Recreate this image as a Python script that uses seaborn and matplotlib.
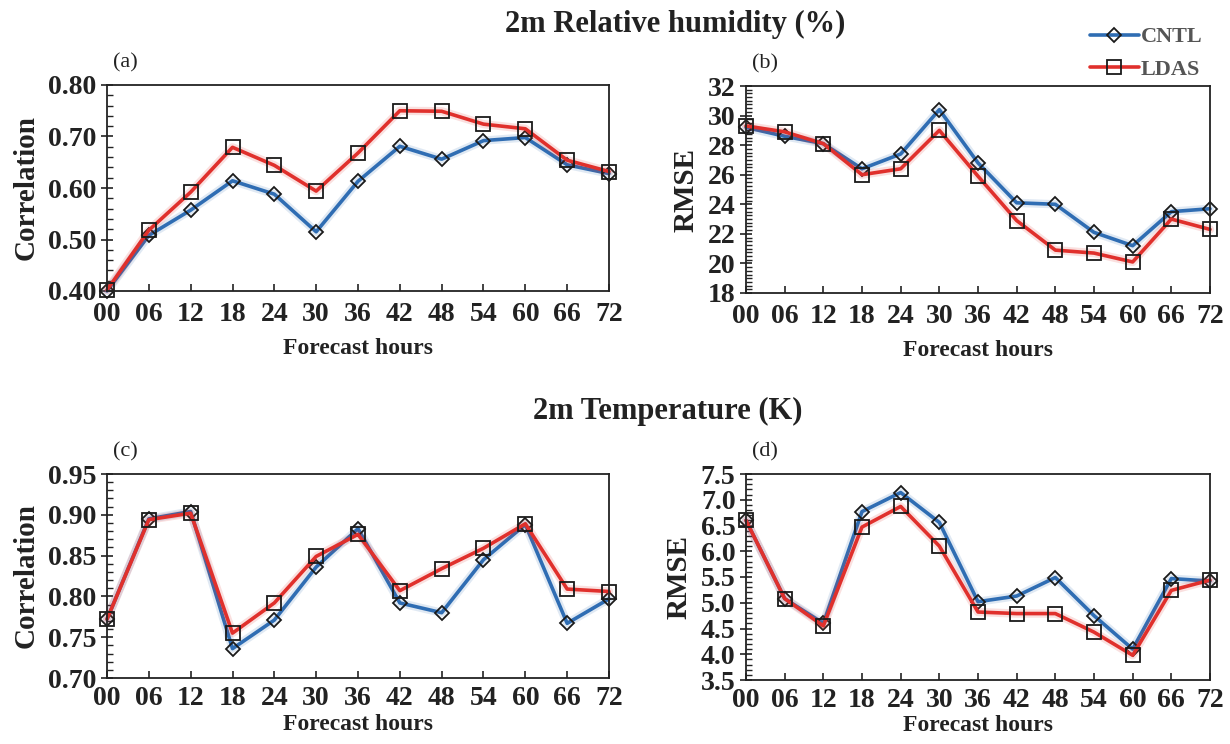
import numpy as np
import pandas as pd
import matplotlib
matplotlib.use("Agg")
import matplotlib.pyplot as plt
from matplotlib.ticker import MultipleLocator
import seaborn as sns

sns.set_theme(style="white")
plt.rcParams["font.family"] = ["Liberation Serif", "DejaVu Serif"]

hours = [0, 6, 12, 18, 24, 30, 36, 42, 48, 54, 60, 66, 72]
hour_labels = ["00", "06", "12", "18", "24", "30", "36", "42", "48", "54", "60", "66", "72"]

# 2m relative humidity
rh_corr_cntl = [0.400, 0.508, 0.557, 0.614, 0.588, 0.515, 0.613, 0.681, 0.656, 0.692, 0.698, 0.645, 0.628]
rh_corr_ldas = [0.402, 0.518, 0.592, 0.679, 0.644, 0.594, 0.668, 0.750, 0.749, 0.724, 0.715, 0.654, 0.632]
rh_rmse_cntl = [29.2, 28.6, 28.1, 26.4, 27.4, 30.4, 26.8, 24.1, 24.0, 22.1, 21.2, 23.5, 23.7]
rh_rmse_ldas = [29.3, 28.9, 28.1, 26.0, 26.4, 29.0, 25.9, 22.9, 20.9, 20.7, 20.1, 23.0, 22.3]

# 2m temperature
t_corr_cntl = [0.772, 0.895, 0.904, 0.736, 0.771, 0.836, 0.883, 0.792, 0.780, 0.845, 0.888, 0.767, 0.797]
t_corr_ldas = [0.772, 0.894, 0.902, 0.755, 0.792, 0.849, 0.876, 0.807, 0.834, 0.859, 0.889, 0.809, 0.806]
t_rmse_cntl = [6.60, 5.08, 4.60, 6.77, 7.14, 6.56, 5.02, 5.13, 5.49, 4.75, 4.10, 5.47, 5.42]
t_rmse_ldas = [6.60, 5.08, 4.55, 6.47, 6.87, 6.10, 4.82, 4.79, 4.79, 4.43, 3.98, 5.24, 5.44]

series_names = ["CNTL", "LDAS"]
colors = {"CNTL": "#2f6db3", "LDAS": "#e0302c"}
markers = {"CNTL": "D", "LDAS": "s"}
msizes = {"CNTL": 7.5, "LDAS": 10}

fig = plt.figure(figsize=(12.3, 7.44), dpi=100)

panels = [
    # (rect, cntl, ldas, ylabel, ylim, major, minor, fmt, tag, tick pad, label pad)
    ([107 / 1230, 1 - 291 / 744, 502 / 1230, 206 / 744], rh_corr_cntl, rh_corr_ldas,
     "Correlation", (0.40, 0.80), 0.10, 0.02, "{:.2f}", "(a)", 8, 8),
    ([746 / 1230, 1 - 293 / 744, 464 / 1230, 207 / 744], rh_rmse_cntl, rh_rmse_ldas,
     "RMSE", (18, 32), 2, 0.25, "{:.0f}", "(b)", 8, 8),
    ([107 / 1230, 1 - 678 / 744, 502 / 1230, 204 / 744], t_corr_cntl, t_corr_ldas,
     "Correlation", (0.70, 0.95), 0.05, 0.01, "{:.2f}", "(c)", 6, 2),
    ([746 / 1230, 1 - 680 / 744, 464 / 1230, 206 / 744], t_rmse_cntl, t_rmse_ldas,
     "RMSE", (3.5, 7.5), 0.5, 0.1, "{:.1f}", "(d)", 6, 1),
]

handles = {}
for rect, cntl, ldas, ylab, ylim, major, minor, fmt, tag, tpad, lpad in panels:
    ax = fig.add_axes(rect)
    df = pd.DataFrame({
        "hour": hours * 2,
        "value": list(cntl) + list(ldas),
        "run": ["CNTL"] * len(hours) + ["LDAS"] * len(hours),
    })
    for name in series_names:
        sub = df[df["run"] == name]
        # soft halo under each line
        sns.lineplot(data=sub, x="hour", y="value", ax=ax, color=colors[name],
                     linewidth=6, alpha=0.15, legend=False)
        ax.lines[-1].set_clip_on(False)
        sns.lineplot(data=sub, x="hour", y="value", ax=ax, color=colors[name],
                     linewidth=2.6, marker=markers[name], markersize=msizes[name],
                     markerfacecolor="none", markeredgecolor="#1a1a1a",
                     markeredgewidth=1.3, legend=False)
        line = ax.lines[-1]
        line.set_clip_on(False)
        handles[name] = line

    ax.set_xlim(0, 72)
    ax.set_ylim(*ylim)
    ax.set_xticks(hours)
    ax.set_xticklabels(hour_labels)
    ax.yaxis.set_major_locator(MultipleLocator(major))
    ax.yaxis.set_minor_locator(MultipleLocator(minor))
    ax.set_yticklabels([fmt.format(v) for v in ax.get_yticks()])
    ax.set_ylim(*ylim)

    for s in ax.spines.values():
        s.set_visible(True)
        s.set_color("#222222")
        s.set_linewidth(1.3)

    ax.tick_params(axis="x", which="major", direction="in", length=5, width=1.2,
                   bottom=True, labelsize=20, pad=tpad, colors="#222222")
    ax.tick_params(axis="y", which="major", direction="inout", length=9, width=1.2,
                   left=True, labelsize=20, pad=3, colors="#222222")
    ax.tick_params(axis="y", which="minor", direction="in", length=4, width=1.0,
                   left=True, colors="#222222")
    for lab in ax.get_xticklabels() + ax.get_yticklabels():
        lab.set_fontweight("bold")
        lab.set_color("#222222")

    ax.set_xlabel("Forecast hours", fontsize=17, fontweight="bold", color="#222222", labelpad=lpad)
    ax.set_ylabel(ylab, fontsize=21, fontweight="bold", color="#222222", labelpad=6)
    ax.text(0.012, 1.06, tag, transform=ax.transAxes, fontsize=16, color="#222222",
            ha="left", va="bottom")

fig.text(0.549, 1 - 24 / 744, "2m Relative humidity (%)", ha="center", va="center",
         fontsize=22, fontweight="bold", color="#222222")
fig.text(0.543, 1 - 411 / 744, "2m Temperature (K)", ha="center", va="center",
         fontsize=22, fontweight="bold", color="#222222")

leg = fig.legend([handles["CNTL"], handles["LDAS"]], series_names,
                 loc="upper right", bbox_to_anchor=(0.985, 1 - 18 / 744),
                 frameon=False, handlelength=2.2, handletextpad=0.1,
                 labelspacing=0.55, borderaxespad=0.0,
                 prop={"family": "Liberation Serif", "weight": "bold", "size": 16})
for t in leg.get_texts():
    t.set_color("#555555")

fig.savefig("out.png", dpi=100, facecolor="white")
